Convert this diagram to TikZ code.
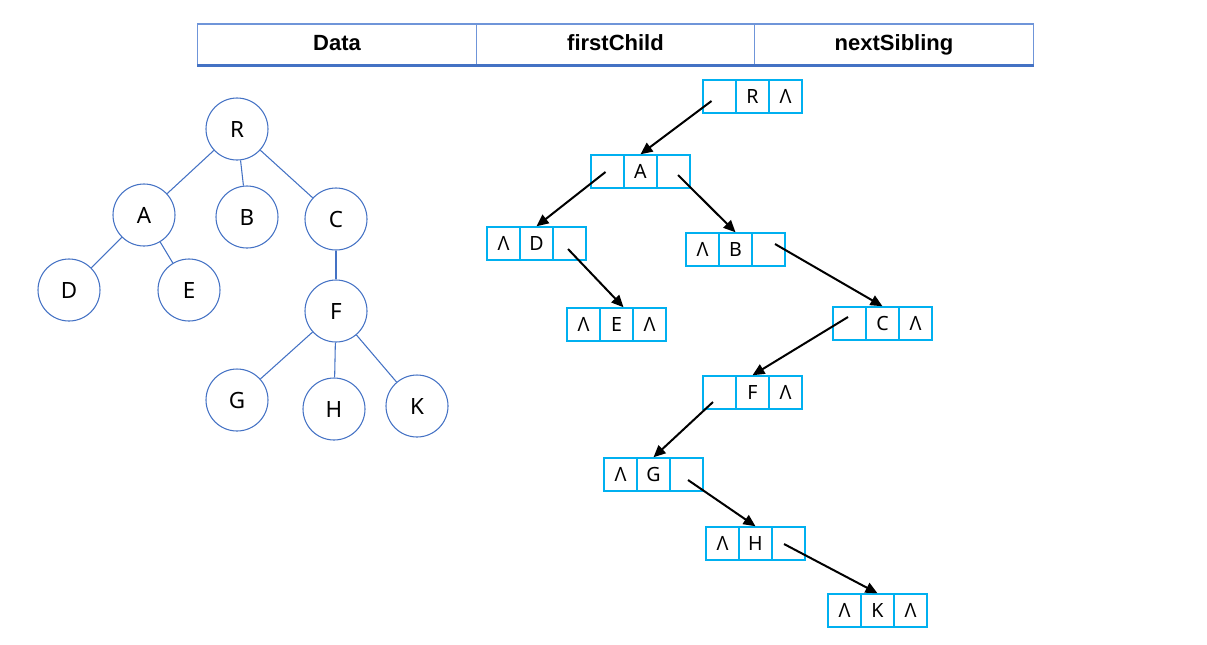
\documentclass[tikz,border=0pt]{standalone}
\usepackage{fontspec}
\setmainfont{Noto Sans}
\newfontfamily\hdfont{Liberation Sans}
\usetikzlibrary{arrows.meta}
\definecolor{treeblue}{HTML}{4472C4}
\definecolor{boxcyan}{HTML}{00B0F0}
\definecolor{hdblue}{HTML}{6F95D9}
\newcommand\recbox[6]{%
  \node[cell] (#1l) at (#2+16.5,#3+16.5) {#4};
  \node[cell] (#1m) at (#2+49.5,#3+16.5) {#5};
  \node[cell] (#1r) at (#2+82.5,#3+16.5) {#6};}
\begin{document}
\begin{tikzpicture}[x=0.75pt,y=-0.75pt,
  tnode/.style={circle,draw=treeblue,line width=0.8pt,minimum size=46.5pt,inner sep=0pt,font=\fontsize{16.8}{18}\selectfont},
  tedge/.style={draw=treeblue,line width=0.8pt},
  cell/.style={rectangle,draw=boxcyan,line width=1.1pt,minimum width=24.75pt,minimum height=24.75pt,inner sep=0pt,font=\fontsize{14.7}{16}\selectfont},
  ptr/.style={-{Triangle[length=9pt,width=8pt]},line width=1.5pt,black},
  hcell/.style={rectangle,draw=hdblue,line width=0.9pt,minimum width=208.9pt,minimum height=30.75pt,inner sep=0pt,text height=11.8pt,text depth=3.5pt,font=\hdfont\bfseries\fontsize{16.5}{18}\selectfont}]
\useasboundingbox (0,0) rectangle (1207,644);
% header
\node[hcell] (hd) at (337,44.5) {Data};
\node[hcell] (hf) at (615.5,44.5) {firstChild};
\node[hcell] (hn) at (894,44.5) {nextSibling};
\draw[treeblue,line width=2pt] (hd.south west) -- (hn.south east);
% tree
\node[tnode] (R) at (237,129) {R};
\node[tnode] (A) at (144,215) {A};
\node[tnode] (B) at (247,217) {B};
\node[tnode] (C) at (336,219) {C};
\node[tnode] (D) at (69,290) {D};
\node[tnode] (E) at (189,290) {E};
\node[tnode] (F) at (336,311) {F};
\node[tnode] (G) at (237,400) {G};
\node[tnode] (H) at (334,409) {H};
\node[tnode] (K) at (417,406) {K};
\draw[tedge] (R) -- (A);
\draw[tedge] (R) -- (B);
\draw[tedge] (R) -- (C);
\draw[tedge] (A) -- (D);
\draw[tedge] (A) -- (E);
\draw[tedge] (C) -- (F);
\draw[tedge] (F) -- (G);
\draw[tedge] (F) -- (H);
\draw[tedge] (F) -- (K);
% records
\recbox{bR}{703}{80}{}{R}{Λ}
\recbox{bA}{591}{155}{}{A}{}
\recbox{bD}{487}{227}{Λ}{D}{}
\recbox{bB}{686}{233}{Λ}{B}{}
\recbox{bE}{567}{308}{Λ}{E}{Λ}
\recbox{bC}{833}{307}{}{C}{Λ}
\recbox{bF}{703}{376}{}{F}{Λ}
\recbox{bG}{604}{458}{Λ}{G}{}
\recbox{bH}{706}{527}{Λ}{H}{}
\recbox{bK}{828}{594}{Λ}{K}{Λ}
% pointers
\draw[ptr] ([shift={(-8,4.5)}]bRl.center) -- (bAm.north);
\draw[ptr] ([shift={(-2,0.5)}]bAl.center) -- (bDm.north);
\draw[ptr] ([shift={(4.5,3.5)}]bAr.center) -- (bBm.north);
\draw[ptr] ([shift={(-1.5,5.5)}]bDr.center) -- ([shift={(7,0)}]bEm.north);
\draw[ptr] ([shift={(6.5,-5.5)}]bBr.center) -- (bCm.north);
\draw[ptr] ([shift={(-1.5,-6.5)}]bCl.center) -- (bFm.north);
\draw[ptr] ([shift={(-6.5,9.5)}]bFl.center) -- (bGm.north);
\draw[ptr] ([shift={(1.5,5.5)}]bGr.center) -- (bHm.north);
\draw[ptr] ([shift={(-4.5,0.5)}]bHr.center) -- (bKm.north);
\end{tikzpicture}
\end{document}
